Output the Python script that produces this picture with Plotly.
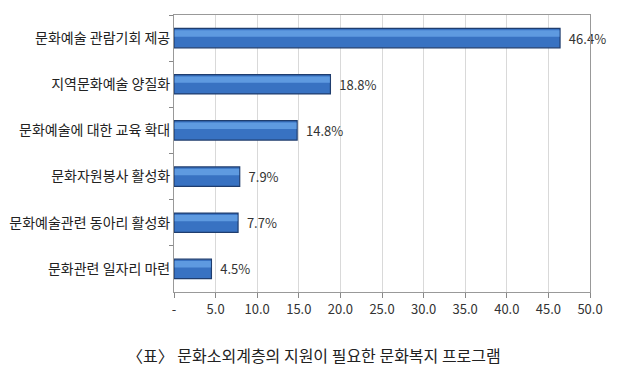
import plotly.graph_objects as go

categories = ["문화예술 관람기회 제공", "지역문화예술 양질화", "문화예술에 대한 교육 확대",
              "문화자원봉사 활성화", "문화예술관련 동아리 활성화", "문화관련 일자리 마련"]
values = [46.4, 18.8, 14.8, 7.9, 7.7, 4.5]
tick_vals = [0, 5, 10, 15, 20, 25, 30, 35, 40, 45, 50]
tick_text = ["-", "5.0", "10.0", "15.0", "20.0", "25.0", "30.0", "35.0", "40.0", "45.0", "50.0"]
caption = "〈표〉 문화소외계층의 지원이 필요한 문화복지 프로그램"

FONT = "Noto Sans CJK KR"

fig = go.Figure()
# main bar
fig.add_trace(go.Bar(
    x=values, y=categories, orientation="h",
    marker=dict(color="#3872c2", line=dict(color="#1f3d6e", width=1.2)),
    width=0.42, offset=-0.21,
    text=[f"  {v:.1f}%" for v in values], textposition="outside",
    textfont=dict(family=FONT, size=13, color="#333333"),
    cliponaxis=False, hoverinfo="x+y",
))
# light highlight band (glossy top of the bar)
fig.add_trace(go.Bar(
    x=[v - 0.15 for v in values], y=categories, orientation="h", base=0.08,
    marker=dict(color="#5e9ae0", line=dict(width=0)),
    width=0.14, offset=-0.17, hoverinfo="skip",
))

fig.update_layout(
    width=620, height=379,
    barmode="overlay",
    margin=dict(l=166, r=38, t=7, b=95, autoexpand=False),
    paper_bgcolor="white", plot_bgcolor="white",
    showlegend=False,
    font=dict(family=FONT, size=12, color="#222222"),
    xaxis=dict(range=[0, 50], tickvals=tick_vals, ticktext=tick_text, automargin=False,
               showgrid=True, gridcolor="#d9d9d9", gridwidth=1,
               ticks="outside", ticklen=5, tickcolor="#888888",
               showline=True, linecolor="#999999", mirror=True,
               tickfont=dict(family=FONT, size=13, color="#333333"), zeroline=False),
    yaxis=dict(autorange="reversed", ticks="outside", ticklen=4, tickcolor="#888888",
               tickson="boundaries", showline=True, linecolor="#999999", mirror=True,
               showgrid=False, automargin=False,
               tickfont=dict(family=FONT, size=14, color="#222222")),
    annotations=[dict(text=caption, xref="paper", yref="paper", x=0.337, y=-0.227,
                      xanchor="center", yanchor="middle", showarrow=False,
                      font=dict(family=FONT, size=16, color="#222222"))],
)

fig.write_html("out.html")
